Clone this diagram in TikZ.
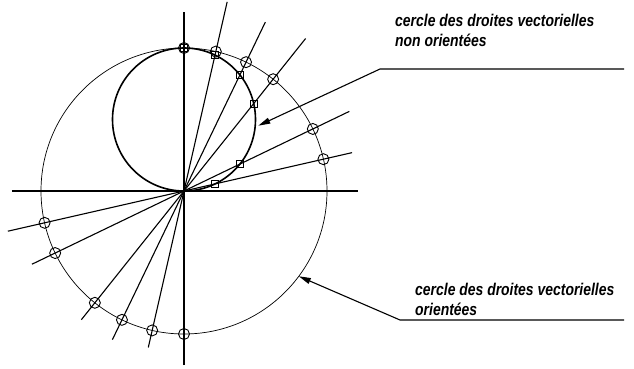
\documentclass[tikz,border=0pt]{standalone}
\usepackage{fontspec}
\setmainfont{Liberation Sans}
\newfontfamily\etiqfont[FakeStretch=0.82]{Liberation Sans}
\usetikzlibrary{arrows.meta}

\begin{document}
\begin{tikzpicture}[
    x=1pt, y=1pt,
    axe/.style={line width=1.5pt},
    droite/.style={line width=1.1pt},
    grandcercle/.style={line width=0.7pt},
    petitcercle/.style={line width=1.6pt},
    rond/.style={circle, draw, line width=0.9pt, minimum size=11pt, inner sep=0pt},
    carre/.style={rectangle, draw, line width=0.9pt, minimum size=7pt, inner sep=0pt},
    fleche/.style={-{Triangle[length=12pt,width=6pt]}, line width=1.1pt},
    etiq/.style={font=\etiqfont\bfseries\itshape\fontsize{17}{20}\selectfont, align=left, anchor=base west, inner sep=0pt},
  ]
  \useasboundingbox (-184,-178) rectangle (450,191);
  \coordinate (O) at (0,0);

  % ----- Axes -----
  \coordinate (xg) at (-172,0);
  \coordinate (xd) at (174,0);
  \coordinate (yb) at (0,-174);
  \coordinate (yh) at (0,179);
  \draw[axe] (xg) -- (xd);
  \draw[axe] (yb) -- (yh);

  % ----- Cercles -----
  \draw[grandcercle] (O) circle (143);
  \draw[petitcercle] (0,71.5) circle (71.5);

  % ----- Droites vectorielles (angle k*90/7) -----
  \foreach \k/\lb/\lh in {1/180.7/172.4, 2/168.8/183.5, 4/164.6/195, 5/165/187.5, 6/160.5/194} {
    \coordinate (b\k) at ({\k*90/7+180}:\lb);
    \coordinate (h\k) at ({\k*90/7}:\lh);
    \draw[droite] (b\k) -- (h\k);
  }

  % ----- Marqueurs -----
  \foreach \k in {1,2,4,5,6,7} {
    \node[rond] (rh\k) at ({\k*90/7}:143) {};
    \node[rond] (rb\k) at ({\k*90/7+180}:143) {};
    \node[carre] (c\k) at ({\k*90/7}:{143*sin(\k*90/7)}) {};
  }

  % ----- Etiquettes -----
  \node[etiq] (nonor) at (211,144.3) {cercle des droites vectorielles\\non orientées};
  \node[etiq] (or) at (231,-124.7) {cercle des droites vectorielles\\orientées};

  \coordinate (r1) at (440,122);
  \coordinate (r1c) at (196,122);
  \coordinate (p1) at (74.3,65.3);
  \draw[fleche] (r1) -- (r1c) -- (p1);

  \coordinate (r2) at (440,-129);
  \coordinate (r2c) at (216,-129);
  \coordinate (p2) at (-36.6:143);
  \draw[fleche] (r2) -- (r2c) -- (p2);
\end{tikzpicture}
\end{document}
